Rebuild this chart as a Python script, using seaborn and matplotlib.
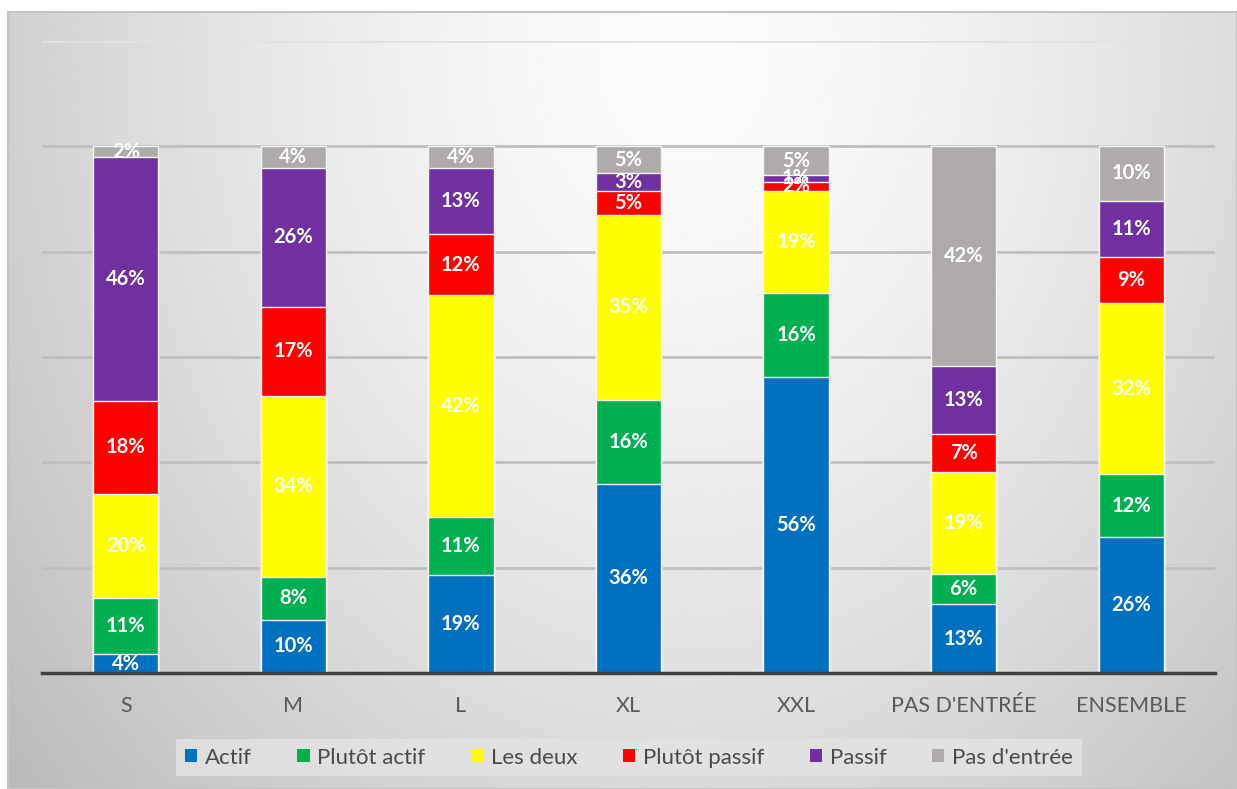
"""Stacked 100% bar chart: profil par taille d'entreprise."""
import matplotlib

matplotlib.use("Agg")
import matplotlib.pyplot as plt
from matplotlib.patches import Patch
import numpy as np
import pandas as pd
import seaborn as sns

categories = ["S", "M", "L", "XL", "XXL", "PAS D'ENTRÉE", "ENSEMBLE"]
series = ["Actif", "Plutôt actif", "Les deux", "Plutôt passif", "Passif", "Pas d'entrée"]
colors = ["#0070C0", "#00B050", "#FFFF00", "#FF0000", "#7030A0", "#AFABAB"]

actif = [3.6, 10.1, 18.6, 35.9, 56.2, 13.1, 25.8]
plutot_actif = [10.6, 8.2, 11.0, 15.9, 16.0, 5.7, 12.0]
les_deux = [19.8, 34.3, 42.1, 35.2, 19.4, 19.3, 32.4]
plutot_passif = [17.7, 16.9, 11.6, 4.6, 1.7, 7.2, 8.7]
passif = [46.3, 26.4, 12.6, 3.4, 1.3, 12.9, 10.8]
pas_entree = [2.0, 4.1, 4.1, 5.0, 5.4, 41.8, 10.3]

values = [actif, plutot_actif, les_deux, plutot_passif, passif, pas_entree]

df = pd.DataFrame({name: vals for name, vals in zip(series, values)}, index=categories)
cum = df.cumsum(axis=1)

sns.set_style("white")
plt.rcParams["font.family"] = ["Lato", "DejaVu Sans"]

W, H = 1237, 789
fig = plt.figure(figsize=(W / 100, H / 100), dpi=100)
fig.patch.set_facecolor("white")

# chart area background with soft radial gradient
bg = fig.add_axes([8 / W, 0, 1 - 8 / W, (H - 12) / H])
yy, xx = np.mgrid[0:1:400j, 0:1:600j]
d = np.sqrt(((xx - 0.55) / 0.6) ** 2 + ((yy - 0.05) / 1.2) ** 2)
grad = np.clip(252 - 50 * d ** 1.5, 0, 255)
bg.imshow(grad, cmap="gray", vmin=0, vmax=255, aspect="auto", extent=(0, 1, 1, 0))
bg.set_xticks([])
bg.set_yticks([])
for s in bg.spines.values():
    s.set_color("#C4C4C4")
    s.set_linewidth(1.5)

ax = fig.add_axes([42 / W, 1 - 673 / H, (1215 - 42) / W, (673 - 41) / H])
ax.patch.set_alpha(0)

# overlay cumulative bars from top layer down
for i in range(len(series) - 1, -1, -1):
    sub = pd.DataFrame({"cat": categories, "val": cum[series[i]].values})
    sns.barplot(data=sub, x="cat", y="val", color=colors[i], width=0.39,
                edgecolor="#F4F4F4", linewidth=1, saturation=1, ax=ax)

# segment labels
for i, name in enumerate(series):
    for j, cat in enumerate(categories):
        v = df.loc[cat, name]
        ax.text(j, cum.loc[cat, name] - v / 2, f"{v:.0f}%", ha="center", va="center",
                color="white", fontsize=14.5, fontweight="bold")

ax.set_xlim(-0.5, len(categories) - 0.5)
ax.set_ylim(0, 120)
ax.set_yticks(np.arange(0, 121, 20))
ax.yaxis.grid(True, color="#BFBFBF", linewidth=2)
ax.get_ygridlines()[-1].set_color("#E2E2E2")
ax.set_axisbelow(True)
ax.tick_params(left=False, labelleft=False, bottom=False, pad=13,
               labelsize=15.5, labelcolor="#595959")
ax.set_xlabel("")
ax.set_ylabel("")
for side in ["top", "right", "left"]:
    ax.spines[side].set_visible(False)
ax.spines["bottom"].set_color("#404040")
ax.spines["bottom"].set_linewidth(2.5)

handles = [Patch(facecolor=c, edgecolor="none") for c in colors]
leg = fig.legend(handles, series, loc="center", bbox_to_anchor=(629 / W, 1 - 757.5 / H),
                 ncol=6, frameon=True, fancybox=False, fontsize=16,
                 handlelength=0.55, handleheight=0.55, handletextpad=0.35,
                 columnspacing=2.05, borderpad=0.4)
leg.get_frame().set_facecolor("#E4E4E4")
leg.get_frame().set_edgecolor("none")
for t in leg.get_texts():
    t.set_color("#4A4A4A")

fig.savefig("out.png", dpi=100)
plt.close(fig)
